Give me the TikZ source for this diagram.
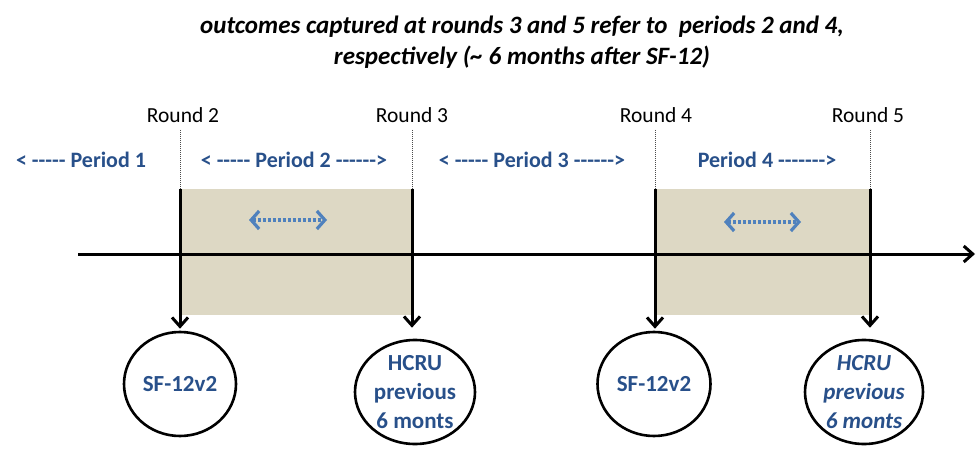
\documentclass[tikz,border=0pt]{standalone}
\usepackage{fontspec}
\setmainfont{Carlito}[Ligatures=TeXOff]
\usetikzlibrary{arrows.meta,shapes.geometric}
\definecolor{perblue}{RGB}{40,80,138}
\definecolor{ltblue}{RGB}{79,129,189}
\definecolor{shade}{RGB}{221,216,196}
\tikzset{
  roundlbl/.style={font=\fontsize{21.5}{24}\selectfont, text=black, inner sep=0pt},
  periodlbl/.style={font=\bfseries\fontsize{22}{24}\selectfont, text=perblue, inner sep=0pt},
  circ/.style={draw=black, line width=2.6pt, ellipse, minimum width=112pt, minimum height=104pt, inner sep=0pt, align=center, text=perblue, font=\bfseries\fontsize{23}{29}\selectfont},
  shadebox/.style={fill=shade, draw=none},
  guide/.style={draw=black!70, line width=0.8pt, dash pattern=on 1pt off 1pt},
  drop/.style={draw=black, line width=3pt, -{Straight Barb[length=9pt,width=16pt,line width=3pt]}},
  axis/.style={draw=black, line width=3pt, -{Straight Barb[length=9pt,width=16pt,line width=3pt]}},
  dblarrow/.style={draw=ltblue, line width=3.2pt, dash pattern=on 3pt off 2pt, {Straight Barb[length=8pt,width=18pt,line width=3.2pt]}-{Straight Barb[length=8pt,width=18pt,line width=3.2pt]}},
}
\begin{document}
\begin{tikzpicture}[x=1pt,y=-1pt]
\useasboundingbox (0,0) rectangle (977,449);
% title
\node[font=\bfseries\itshape\fontsize{25}{31}\selectfont, align=center, inner sep=0pt] (title) at (522,42)
  {outcomes captured at rounds 3 and 5 refer to \ periods 2 and 4,\\ respectively (\textasciitilde\ 6 months after SF-12)};
% shaded periods
\path[shadebox] (180,189) rectangle (412,315);
\path[shadebox] (655,189) rectangle (870,315);
% guides
\coordinate (g2t) at (180,130); \coordinate (g2b) at (180,189);
\coordinate (g3t) at (412,130); \coordinate (g3b) at (412,189);
\coordinate (g4t) at (655,130); \coordinate (g4b) at (655,189);
\coordinate (g5t) at (870,130); \coordinate (g5b) at (870,189);
\draw[guide] (g2t) -- (g2b);
\draw[guide] (g3t) -- (g3b);
\draw[guide] (g4t) -- (g4b);
\draw[guide] (g5t) -- (g5b);
% round labels
\node[roundlbl] (r2) at (183,115) {Round 2};
\node[roundlbl] (r3) at (412,115) {Round 3};
\node[roundlbl] (r4) at (656,115) {Round 4};
\node[roundlbl] (r5) at (868,115) {Round 5};
% period labels
\node[periodlbl] (p1) at (81,160) {< ----- Period 1};
\node[periodlbl] (p2) at (294,160) {< ----- Period 2 ------>};
\node[periodlbl] (p3) at (532,160) {< ----- Period 3 ------>};
\node[periodlbl] (p4) at (767,160) {Period 4 ------->};
% double arrows
\coordinate (d2a) at (249,220); \coordinate (d2b) at (327,220);
\coordinate (d4a) at (724,222); \coordinate (d4b) at (801,222);
\draw[dblarrow] (d2a) -- (d2b);
\draw[dblarrow] (d4a) -- (d4b);
% axis
\coordinate (ax0) at (78,254); \coordinate (ax1) at (975,254);
\draw[axis] (ax0) -- (ax1);
% circles
\node[circ] (c2) at (180,384) {SF-12v2};
\node[circ, minimum width=120pt] (c3) at (415,392) {HCRU\\previous\\6 monts};
\node[circ, minimum width=113pt] (c4) at (654,384) {SF-12v2};
\node[circ, minimum width=118pt, font=\bfseries\itshape\fontsize{23}{29}\selectfont] (c5) at (864,392) {HCRU\\previous\\6 monts};
% drops
\draw[drop, shorten >=2pt] (g2b) -- (g2b |- c2.north);
\draw[drop, shorten >=11pt] (g3b) -- (g3b |- c3.north);
\draw[drop, shorten >=2pt] (g4b) -- (g4b |- c4.north);
\draw[drop, shorten >=11pt] (g5b) -- (g5b |- c5.north);
\end{tikzpicture}
\end{document}
